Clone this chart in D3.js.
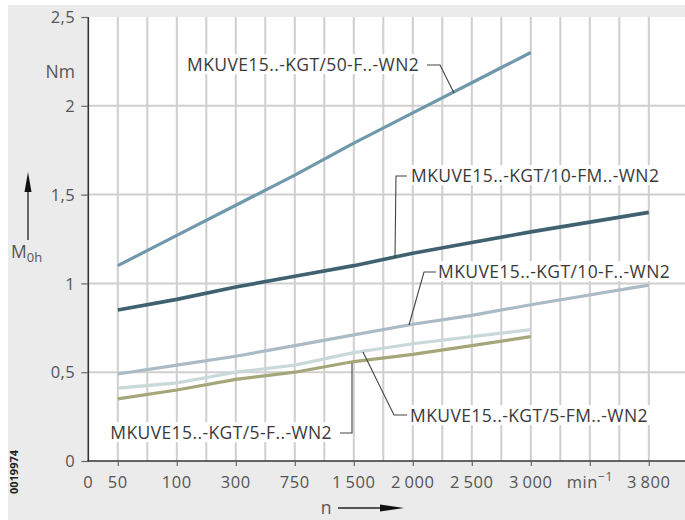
<!DOCTYPE html>
<html>
<head>
<meta charset="utf-8">
<script src="https://cdn.jsdelivr.net/npm/d3@7/dist/d3.min.js"></script>
<style>
  html, body { margin: 0; padding: 0; background: #ffffff; }
  svg { display: block; }
  text { font-family: "Open Sans", "Noto Sans", sans-serif; }
</style>
</head>
<body>
<svg id="chart" width="685" height="520"></svg>
<script>
// Speed axis: labelled tick values (null = slot carrying the unit)
const xTickValues = [0, 50, 100, 300, 750, 1500, 2000, 2500, 3000, null, 3800];
const xTickLabels = ["0", "50", "100", "300", "750", "1\u2009500", "2\u2009000", "2\u2009500", "3\u2009000", "min", "3\u2009800"];
const yTickValues = [0, 0.5, 1, 1.5, 2, 2.5];
const yTickLabels = ["0", "0,5", "1", "1,5", "2", "2,5"];

// Speeds n (min^-1) at which the idle torque was measured
const speeds = [50, 100, 300, 750, 1500, 2000, 2500, 3000, 3800];

// Idle torque M0h (Nm) per series
const kgt50F  = [1.10, 1.27, 1.44, 1.61, 1.79, 1.96, 2.13, 2.30];
const kgt10FM = [0.85, 0.91, 0.98, 1.04, 1.10, 1.17, 1.23, 1.29, 1.40];
const kgt10F  = [0.49, 0.54, 0.59, 0.65, 0.71, 0.77, 0.82, 0.88, 0.99];
const kgt5FM  = [0.41, 0.44, 0.50, 0.54, 0.61, 0.66, 0.70, 0.74];
const kgt5F   = [0.35, 0.40, 0.46, 0.50, 0.56, 0.60, 0.65, 0.70];

const seriesNames = [
  "MKUVE15..-KGT/50-F..-WN2",
  "MKUVE15..-KGT/10-FM..-WN2",
  "MKUVE15..-KGT/10-F..-WN2",
  "MKUVE15..-KGT/5-FM..-WN2",
  "MKUVE15..-KGT/5-F..-WN2"
];
const seriesValues = [kgt50F, kgt10FM, kgt10F, kgt5FM, kgt5F];
const seriesColors = ["#6f98ab", "#3f6170", "#aabbc6", "#c9d9da", "#a4a779"];
const seriesWidths = [3.2, 3.6, 3.2, 3.2, 3.2];

const svg = d3.select("#chart");
const W = 685, H = 520;
const plot = { left: 88.3, top: 17, right: 685, bottom: 461 };
const FS_TICK = 16.5, FS_LABEL = 17.5;

// Background panels
svg.append("rect").attr("x", 0).attr("y", 0).attr("width", W).attr("height", H).attr("fill", "#ffffff");
svg.append("rect").attr("x", 8).attr("y", 5).attr("width", W - 8).attr("height", H - 5).attr("fill", "#ebebeb");
svg.append("rect").attr("x", plot.left).attr("y", plot.top)
  .attr("width", plot.right - plot.left).attr("height", plot.bottom - plot.top).attr("fill", "#ffffff");

// Each labelled tick sits on every second grid slot; 0 sits on slot 0
const slotOf = i => (i === 0 ? 0 : 2 * i - 1);
const x = d3.scaleLinear().domain([0, 20]).range([plot.left, plot.left + 590]);
const y = d3.scaleLinear().domain([0, 2.5]).range([plot.bottom, plot.top]);
const xOfSpeed = v => x(slotOf(xTickValues.indexOf(v)));

// Grid
const grid = svg.append("g");
grid.selectAll("line.v").data(d3.range(1, 20)).join("line")
  .attr("x1", d => x(d)).attr("x2", d => x(d))
  .attr("y1", plot.top).attr("y2", plot.bottom)
  .attr("stroke", "#cfcfcf").attr("stroke-width", 2);
grid.selectAll("line.h").data(yTickValues.filter(v => v > 0 && v < 2.5)).join("line")
  .attr("x1", plot.left).attr("x2", plot.right)
  .attr("y1", d => y(d)).attr("y2", d => y(d))
  .attr("stroke", "#cfcfcf").attr("stroke-width", 2);

// Series lines
const line = d3.line().x((d, i) => xOfSpeed(speeds[i])).y(d => y(d));
svg.append("g").selectAll("path").data(seriesValues).join("path")
  .attr("d", d => line(d))
  .attr("fill", "none")
  .attr("stroke", (d, i) => seriesColors[i])
  .attr("stroke-width", (d, i) => seriesWidths[i])
  .attr("stroke-linecap", "butt")
  .attr("stroke-linejoin", "round");

// Axes
const axisColor = "#333333";
const labelColor = "#555555";
svg.append("line").attr("x1", plot.left).attr("x2", plot.left).attr("y1", plot.top).attr("y2", plot.bottom + 1)
  .attr("stroke", axisColor).attr("stroke-width", 1.6);
svg.append("line").attr("x1", plot.left - 1).attr("x2", plot.right).attr("y1", plot.bottom).attr("y2", plot.bottom)
  .attr("stroke", axisColor).attr("stroke-width", 1.6);

const yAxis = d3.axisLeft(y).tickValues(yTickValues).tickSize(7).tickPadding(6)
  .tickFormat((d, i) => yTickLabels[i]);
const gy = svg.append("g").attr("transform", `translate(${plot.left},0)`).call(yAxis);
gy.select(".domain").remove();
gy.selectAll(".tick line").attr("stroke", "#666").attr("stroke-width", 1.2);
gy.selectAll(".tick text").attr("fill", labelColor).attr("font-size", FS_TICK)
  .attr("font-family", "'Open Sans', sans-serif").attr("dy", "0.34em").attr("letter-spacing", 0.5);

const slotTicks = d3.range(1, xTickValues.length).map(slotOf);
const xAxis = d3.axisBottom(x).tickValues(slotTicks).tickSize(5).tickFormat("");
const gx = svg.append("g").attr("transform", `translate(0,${plot.bottom})`).call(xAxis);
gx.select(".domain").remove();
gx.selectAll(".tick line").attr("stroke", "#666").attr("stroke-width", 1.2);

const xl = svg.append("g").attr("fill", labelColor).attr("font-size", FS_TICK).attr("letter-spacing", 0.6);
xTickLabels.forEach((lab, i) => {
  const t = xl.append("text").attr("x", x(slotOf(i))).attr("y", 488).attr("text-anchor", "middle");
  t.text(lab);
  if (xTickValues[i] === null) {
    t.append("tspan").attr("dy", -7).attr("font-size", 12).text("\u22121");
  }
});

// Axis titles
svg.append("text").attr("x", 75).attr("y", 78).attr("text-anchor", "end")
  .attr("fill", labelColor).attr("font-size", FS_LABEL).text("Nm");
const mt = svg.append("text").attr("x", 11).attr("y", 258).attr("fill", labelColor).attr("font-size", FS_LABEL);
mt.append("tspan").text("M");
mt.append("tspan").attr("dy", 4).attr("font-size", 13).text("0h");
svg.append("line").attr("x1", 28).attr("x2", 28).attr("y1", 240).attr("y2", 186)
  .attr("stroke", "#222").attr("stroke-width", 1.3);
svg.append("path").attr("d", "M28,172 L31.5,192 L24.5,192 Z").attr("fill", "#111");

svg.append("text").attr("x", 326).attr("y", 514).attr("text-anchor", "middle")
  .attr("fill", labelColor).attr("font-size", FS_LABEL).text("n");
svg.append("line").attr("x1", 338).attr("x2", 385).attr("y1", 508).attr("y2", 508)
  .attr("stroke", "#222").attr("stroke-width", 1.3);
svg.append("path").attr("d", "M404,508 L380,504.5 L380,511.5 Z").attr("fill", "#111");

// Drawing number
svg.append("text").attr("transform", "translate(18,472) rotate(-90)")
  .attr("text-anchor", "middle").attr("font-size", 11).attr("font-weight", "bold")
  .attr("fill", "#222").text("0019974");

// Series callouts: label anchor, leader path, text
const callouts = [
  { s: 0, tx: 187, ty: 65, anchor: "start", leader: [[427, 65], [440, 65], [454, 93]] },
  { s: 1, tx: 411, ty: 176, anchor: "start", leader: [[407, 176], [396, 176], [395, 258]] },
  { s: 2, tx: 438, ty: 272, anchor: "start", leader: [[436, 272], [424, 272], [409, 325]] },
  { s: 3, tx: 410, ty: 416, anchor: "start", leader: [[407, 415], [394, 415], [363, 352]] },
  { s: 4, tx: 332, ty: 433, anchor: "end", leader: [[340, 433], [352, 433], [352, 363]] }
];
const cg = svg.append("g");
callouts.forEach(c => {
  const t = cg.append("text").attr("x", c.tx).attr("y", c.ty).attr("dy", "0.35em")
    .attr("text-anchor", c.anchor).attr("font-size", FS_LABEL).attr("letter-spacing", 0.4)
    .attr("fill", "#3a3a3a").text(seriesNames[c.s]);
  const bb = t.node().getBBox();
  cg.insert("rect", "text").attr("x", bb.x - 2).attr("y", bb.y + 2)
    .attr("width", bb.width + 4).attr("height", bb.height - 4).attr("fill", "#ffffff");
  cg.append("path").attr("d", d3.line()(c.leader)).attr("fill", "none")
    .attr("stroke", "#444").attr("stroke-width", 1.1);
});
</script>
</body>
</html>
